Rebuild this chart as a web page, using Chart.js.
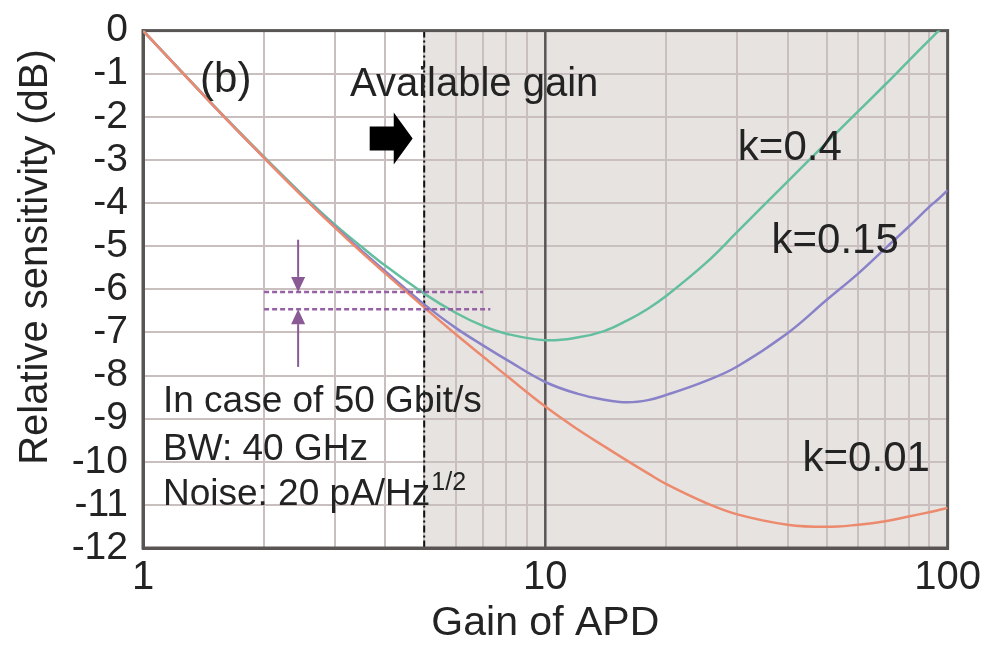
<!DOCTYPE html>
<html>
<head>
<meta charset="utf-8">
<script src="https://cdn.jsdelivr.net/npm/chart.js@4.4.1/dist/chart.umd.min.js"></script>
<style>
  html, body { margin: 0; padding: 0; background: #ffffff; }
  #wrap { width: 991px; height: 650px; position: relative; }
</style>
</head>
<body>
<div id="wrap"><canvas id="c" width="991" height="650"></canvas></div>
<script>
// ---- data ----
const gains = [1, 1.5, 2, 2.5, 3, 3.5, 4, 5, 6, 7, 8, 10, 12, 14, 16, 18, 20, 25, 30, 40, 50, 60, 70, 80, 90, 95, 100];
const k001 = [0, -1.75, -2.95, -3.86, -4.57, -5.15, -5.63, -6.42, -7.05, -7.56, -8.0, -8.72, -9.24, -9.64, -9.98, -10.27, -10.52, -10.95, -11.22, -11.46, -11.51, -11.46, -11.38, -11.27, -11.17, -11.12, -11.07];
const k015 = [0, -1.75, -2.95, -3.85, -4.55, -5.11, -5.58, -6.35, -6.9, -7.3, -7.63, -8.15, -8.42, -8.56, -8.62, -8.57, -8.45, -8.13, -7.79, -7.02, -6.25, -5.63, -5.05, -4.55, -4.09, -3.9, -3.7];
const k04  = [0, -1.74, -2.93, -3.82, -4.5, -5.02, -5.45, -6.1, -6.55, -6.85, -7.03, -7.18, -7.12, -6.97, -6.72, -6.45, -6.15, -5.4, -4.67, -3.5, -2.6, -1.87, -1.25, -0.7, -0.22, 0, 0.22];
const seriesLabels = ['k=0.01', 'k=0.15', 'k=0.4'];
const xTickValues = [1,2,3,4,5,6,7,8,9,10,20,30,40,50,60,70,80,90,100];
const xTickLabels = {1: '1', 10: '10', 100: '100'};
const yMin = -12, yMax = 0;
const availableGainFrom = 5;     // shaded region start
const refGain = 10;              // solid vertical reference
const levelUpper = -6.06, levelLower = -6.46;
const levelUpperX = [2, 7], levelLowerX = [2, 7.3];
const markerGain = 2.43;
const markerUpperFrom = -4.85, markerLowerFrom = -7.8;
const infoLines = ['In case of 50 Gbit/s', 'BW: 40 GHz', 'Noise: 20 pA/Hz'];

const FONT = '"Liberation Sans", Arial, sans-serif';
const TXT = '#232323';

const pts = (xs, ys) => xs.map((x, i) => ({x, y: ys[i]}));

const decor = {
  id: 'decor',
  beforeDraw(chart) {
    const {ctx, chartArea: a, scales: {x}} = chart;
    ctx.save();
    const x5 = x.getPixelForValue(availableGainFrom);
    ctx.fillStyle = '#e7e3e1';
    ctx.fillRect(x5, a.top, a.right - x5, a.bottom - a.top);
    ctx.restore();
  },
  beforeDatasetsDraw(chart) {
    const {ctx, chartArea: a, scales: {x}} = chart;
    ctx.save();
    const x10 = x.getPixelForValue(refGain);
    ctx.strokeStyle = '#5a5555';
    ctx.lineWidth = 2.5;
    ctx.beginPath(); ctx.moveTo(x10, a.top); ctx.lineTo(x10, a.bottom); ctx.stroke();
    const x5 = x.getPixelForValue(availableGainFrom);
    ctx.strokeStyle = '#111';
    ctx.lineWidth = 2;
    ctx.setLineDash([7, 3, 2, 3]);
    ctx.beginPath(); ctx.moveTo(x5, a.top); ctx.lineTo(x5, a.bottom); ctx.stroke();
    ctx.setLineDash([]);
    ctx.strokeStyle = '#5a5555';
    ctx.lineWidth = 3;
    ctx.strokeRect(a.left, a.top, a.right - a.left, a.bottom - a.top);
    ctx.restore();
  },
  afterDatasetsDraw(chart) {
    const {ctx, scales: {x, y}} = chart;
    ctx.save();
    const mx = x.getPixelForValue(markerGain);
    ctx.strokeStyle = '#8a5a94';
    ctx.fillStyle = '#8a5a94';
    ctx.lineWidth = 2;
    const arrow = (fromV, toV) => {
      const y0 = y.getPixelForValue(fromV), y1 = y.getPixelForValue(toV);
      const dir = Math.sign(y1 - y0);
      const hl = 15, hw = 7;
      ctx.beginPath(); ctx.moveTo(mx, y0); ctx.lineTo(mx, y1 - dir * hl); ctx.stroke();
      ctx.beginPath();
      ctx.moveTo(mx, y1);
      ctx.lineTo(mx - hw, y1 - dir * hl);
      ctx.lineTo(mx + hw, y1 - dir * hl);
      ctx.closePath(); ctx.fill();
    };
    arrow(markerUpperFrom, levelUpper);
    arrow(markerLowerFrom, levelLower);

    const ax0 = x.getPixelForValue(3.66), ax1 = x.getPixelForValue(4.2), ax2 = x.getPixelForValue(4.68);
    const ay = y.getPixelForValue(-2.5);
    ctx.fillStyle = '#000';
    ctx.beginPath();
    ctx.moveTo(ax0, ay - 12);
    ctx.lineTo(ax1, ay - 12);
    ctx.lineTo(ax1, ay - 26);
    ctx.lineTo(ax2, ay);
    ctx.lineTo(ax1, ay + 26);
    ctx.lineTo(ax1, ay + 12);
    ctx.lineTo(ax0, ay + 12);
    ctx.closePath(); ctx.fill();

    ctx.fillStyle = TXT;
    ctx.textBaseline = 'middle';
    ctx.textAlign = 'left';
    ctx.font = '42px ' + FONT;
    ctx.fillText('(b)', x.getPixelForValue(1.627) - 28, y.getPixelForValue(-1.16));
    ctx.font = '40px ' + FONT;
    ctx.fillText('Available gain', x.getPixelForValue(3.27), y.getPixelForValue(-1.25));
    ctx.font = '42px ' + FONT;
    ctx.fillText('k=0.4', x.getPixelForValue(30.1), y.getPixelForValue(-2.73));
    ctx.fillText('k=0.15', x.getPixelForValue(36.5), y.getPixelForValue(-4.89));
    ctx.fillText('k=0.01', x.getPixelForValue(43.6), y.getPixelForValue(-9.94));
    ctx.font = '37px ' + FONT;
    const lx = x.getPixelForValue(1.121);
    ctx.fillText(infoLines[0], lx, y.getPixelForValue(-8.62));
    ctx.fillText(infoLines[1], lx, y.getPixelForValue(-9.73));
    ctx.fillText(infoLines[2], lx, y.getPixelForValue(-10.77));
    const w = ctx.measureText(infoLines[2]).width;
    ctx.font = '25px ' + FONT;
    ctx.fillText('1/2', lx + w + 1, y.getPixelForValue(-10.77) - 12);

    ctx.font = '40px ' + FONT;
    ctx.textAlign = 'center';
    ctx.translate(36, 257);
    ctx.rotate(-Math.PI / 2);
    ctx.fillText('Relative sensitivity (dB)', 0, 0);
    ctx.restore();
  }
};

new Chart(document.getElementById('c'), {
  type: 'line',
  data: {
    datasets: [
      { label: 'level upper', data: pts(levelUpperX, [levelUpper, levelUpper]), borderColor: '#9660a6', borderWidth: 2.5, borderDash: [5, 3], pointRadius: 0 },
      { label: 'level lower', data: pts(levelLowerX, [levelLower, levelLower]), borderColor: '#9660a6', borderWidth: 2.5, borderDash: [5, 3], pointRadius: 0 },
      { label: seriesLabels[0], data: pts(gains, k001), borderColor: '#ec8a6e', borderWidth: 2.5, pointRadius: 0, tension: 0.4 },
      { label: seriesLabels[1], data: pts(gains, k015), borderColor: '#8a82c8', borderWidth: 2.5, pointRadius: 0, tension: 0.4 },
      { label: seriesLabels[2], data: pts(gains, k04), borderColor: '#63bf9f', borderWidth: 2.5, pointRadius: 0, tension: 0.4 }
    ]
  },
  options: {
    responsive: false,
    animation: false,
    layout: { padding: { left: 0, right: 43, top: 30, bottom: 0 } },
    plugins: { legend: { display: false }, tooltip: { enabled: false } },
    scales: {
      x: {
        type: 'logarithmic', min: 1, max: 100,
        afterBuildTicks: (s) => { s.ticks = xTickValues.map(v => ({value: v})); },
        afterFit: (s) => { s.height = 102; },
        grid: { color: '#c9bfbf', lineWidth: 2, drawTicks: false },
        border: { color: '#5a5555', width: 3 },
        ticks: {
          autoSkip: false, maxRotation: 0, padding: 10, color: TXT,
          font: { family: FONT, size: 40, lineHeight: 1.0 },
          callback: (v) => xTickLabels[v] || ''
        },
        title: { display: true, text: 'Gain of APD', color: TXT, font: { family: FONT, size: 41 }, padding: { top: 0, bottom: 2 } }
      },
      y: {
        min: yMin, max: yMax,
        afterFit: (s) => { s.width = 143; },
        grid: { color: '#c9bfbf', lineWidth: 2, drawTicks: false },
        border: { color: '#5a5555', width: 3 },
        ticks: { stepSize: 1, autoSkip: false, padding: 15, color: TXT, font: { family: FONT, size: 39, lineHeight: 0.8 } },
        title: { display: false }
      }
    }
  },
  plugins: [decor]
});
</script>
</body>
</html>
